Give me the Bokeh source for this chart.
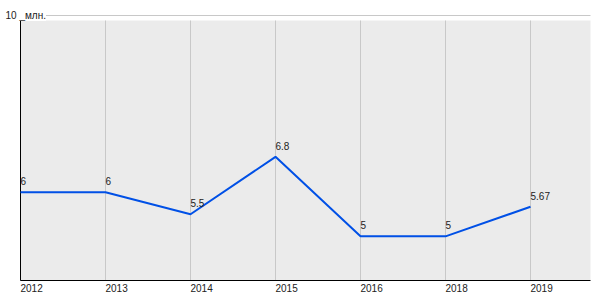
from bokeh.plotting import figure
from bokeh.models import ColumnDataSource, Label, BoxAnnotation, Range1d
from bokeh.core.properties import value
from bokeh.embed import file_html
from bokeh.resources import INLINE

years = ["2012", "2013", "2014", "2015", "2016", "2018", "2019"]
values = [6, 6, 5.5, 6.8, 5, 5, 5.67]
value_labels = ["6", "6", "5.5", "6.8", "5", "5", "5.67"]
y_top_value = 10
y_top_label = "10 _млн."

idx = list(range(len(years)))
n = len(idx)
src = ColumnDataSource(dict(x=idx, y=values, t=value_labels))
ysrc = ColumnDataSource(dict(x=idx, y=[4] * n, t=years))

FONT = "Liberation Sans"

# scale: 85 px per category step, ~44.17 px per unit
XS = 85.0
YS = 265 / 6
x_left, x_right = 0.0, 570 / XS          # plot area in data units
y_bottom, y_area_top = 4.0, 4 + 260 / YS

p = figure(width=600, height=300, output_backend="svg", toolbar_location=None,
           x_range=Range1d(-20 / XS, 580 / XS),
           y_range=Range1d(4 - 20 / YS, 4 + 280 / YS),
           min_border=0, min_border_left=0, min_border_right=0,
           min_border_top=0, min_border_bottom=0)
p.outline_line_color = None
p.background_fill_color = "white"
p.border_fill_color = "white"
p.axis.visible = False
p.grid.visible = False

# plot-area background
p.add_layout(BoxAnnotation(bottom=y_bottom, top=y_area_top, left=x_left, right=x_right,
                           fill_color="#ebebeb", fill_alpha=1, line_color=None, level="image"))

# vertical grid lines
p.segment(x0=idx, x1=idx, y0=[y_bottom] * n, y1=[y_area_top] * n,
          line_color="#c8c8c8", line_width=1)

# top reference line
p.segment(x0=[x_left], x1=[x_right], y0=[y_top_value], y1=[y_top_value],
          line_color="#c8c8c8", line_width=1)

# axis lines
p.segment(x0=[x_left], x1=[x_right], y0=[y_bottom], y1=[y_bottom], line_color="black", line_width=1)
p.segment(x0=[x_left], x1=[x_left], y0=[y_bottom], y1=[y_area_top], line_color="black", line_width=1)

# data line and labels
p.line("x", "y", source=src, line_color="#0050e6", line_width=2)
p.text("x", "y", text="t", source=src, text_font=value(FONT), text_font_size="10px",
       text_color="#222222", text_baseline="alphabetic", text_align="left", y_offset=-11)

# category labels (left-aligned at tick)
p.text("x", "y", text="t", source=ysrc, text_font=value(FONT), text_font_size="10px",
       text_color="#222222", text_baseline="top", text_align="left", y_offset=3)

p.add_layout(Label(x=-15 / XS, y=y_top_value, text=y_top_label, text_font=FONT,
                   text_font_size="10px", text_color="#222222", text_baseline="alphabetic",
                   text_align="left", y_offset=0,
                   background_fill_color="white", background_fill_alpha=1))

open("out.html", "w").write(file_html(p, INLINE))
